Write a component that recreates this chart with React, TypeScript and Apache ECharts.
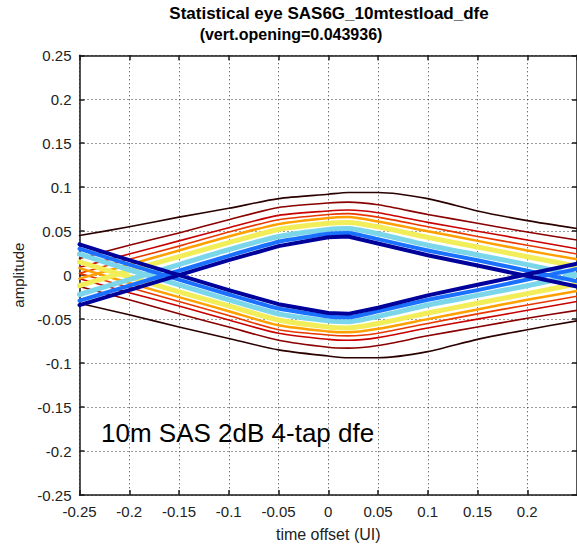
import React, { useEffect, useRef } from "react";
import * as echarts from "echarts";

// time offset samples (UI)
const T = [-0.25, -0.2, -0.15, -0.1, -0.05, 0, 0.02, 0.05, 0.1, 0.15, 0.2, 0.25];

// upper eye boundary contours (inner = highest probability)
const upperInner = [-0.034, -0.017, 0.0, 0.017, 0.033, 0.043, 0.044, 0.036, 0.0226, 0.011, -0.001, -0.013];
const upperBlue = [-0.029, -0.012, 0.005, 0.022, 0.038, 0.047, 0.048, 0.041, 0.028, 0.017, 0.005, -0.007];
const upperCyan = [-0.022, -0.005, 0.012, 0.029, 0.044, 0.052, 0.053, 0.047, 0.034, 0.023, 0.012, 0.0];
const upperYellow = [-0.012, 0.005, 0.021, 0.037, 0.052, 0.059, 0.06, 0.055, 0.043, 0.032, 0.021, 0.01];
const upperOrange = [-0.004, 0.012, 0.028, 0.044, 0.058, 0.065, 0.066, 0.061, 0.05, 0.039, 0.028, 0.018];
const upperOrangeRed = [0.002, 0.018, 0.033, 0.049, 0.063, 0.069, 0.07, 0.066, 0.055, 0.044, 0.034, 0.024];
const upperRed = [0.009, 0.024, 0.039, 0.054, 0.068, 0.073, 0.074, 0.071, 0.06, 0.05, 0.04, 0.03];
const upperDarkRed = [0.019, 0.034, 0.048, 0.063, 0.077, 0.082, 0.083, 0.08, 0.069, 0.059, 0.049, 0.04];
const upperBlack = [0.045, 0.055, 0.066, 0.076, 0.087, 0.092, 0.094, 0.094, 0.087, 0.073, 0.062, 0.053];

// lower eye boundary contours
const lowerInner = [0.035, 0.017, 0.0, -0.017, -0.033, -0.043, -0.044, -0.037, -0.023, -0.011, 0.001, 0.013];
const lowerBlue = [0.03, 0.012, -0.005, -0.022, -0.038, -0.047, -0.048, -0.041, -0.028, -0.017, -0.005, 0.007];
const lowerCyan = [0.024, 0.006, -0.011, -0.028, -0.044, -0.052, -0.053, -0.047, -0.034, -0.023, -0.012, 0.0];
const lowerYellow = [0.015, -0.002, -0.019, -0.035, -0.051, -0.059, -0.06, -0.055, -0.043, -0.032, -0.021, -0.01];
const lowerOrange = [0.008, -0.009, -0.025, -0.041, -0.057, -0.064, -0.065, -0.061, -0.05, -0.039, -0.028, -0.018];
const lowerOrangeRed = [0.002, -0.014, -0.03, -0.046, -0.062, -0.068, -0.069, -0.066, -0.055, -0.044, -0.034, -0.024];
const lowerRed = [-0.004, -0.02, -0.035, -0.051, -0.066, -0.073, -0.074, -0.071, -0.06, -0.05, -0.04, -0.03];
const lowerDarkRed = [-0.013, -0.028, -0.044, -0.059, -0.074, -0.082, -0.083, -0.08, -0.069, -0.059, -0.049, -0.04];
const lowerBlack = [-0.032, -0.045, -0.059, -0.072, -0.085, -0.092, -0.094, -0.094, -0.087, -0.073, -0.062, -0.052];

const TITLE_1 = "Statistical eye SAS6G_10mtestload_dfe";
const TITLE_2 = "(vert.opening=0.043936)";
const NOTE = "10m SAS 2dB 4-tap dfe";
const X_NAME = "time offset (UI)";
const Y_NAME = "amplitude";

const FONT = "Liberation Sans, Arial, sans-serif";

export default function App() {
  const ref = useRef<HTMLDivElement>(null);
  useEffect(() => {
    if (!ref.current) return;
    const chart = echarts.init(ref.current, undefined, { renderer: "svg" });

    const levels: { up: number[]; lo: number[]; color: string; width: number; smooth: number | boolean }[] = [
      { up: upperBlack, lo: lowerBlack, color: "#2a0000", width: 1.6, smooth: 0.25 },
      { up: upperDarkRed, lo: lowerDarkRed, color: "#8a0000", width: 1.6, smooth: 0.25 },
      { up: upperRed, lo: lowerRed, color: "#c80000", width: 1.6, smooth: 0.25 },
      { up: upperOrangeRed, lo: lowerOrangeRed, color: "#e83800", width: 1.6, smooth: 0.25 },
      { up: upperOrange, lo: lowerOrange, color: "#ffa000", width: 2.5, smooth: 0.25 },
      { up: upperYellow, lo: lowerYellow, color: "#f2ee5a", width: 5, smooth: 0.2 },
      { up: upperCyan, lo: lowerCyan, color: "#7ad6e8", width: 5, smooth: 0.2 },
      { up: upperBlue, lo: lowerBlue, color: "#1a70ff", width: 4, smooth: 0.15 },
      { up: upperInner, lo: lowerInner, color: "#00009a", width: 4, smooth: false },
    ];

    const series: any[] = [];
    levels.forEach((lv, i) => {
      [lv.up, lv.lo].forEach((arr, j) => {
        series.push({
          type: "line",
          name: `c${i}_${j}`,
          data: T.map((t, k) => [t, arr[k]]),
          showSymbol: false,
          smooth: lv.smooth,
          clip: true,
          silent: true,
          lineStyle: { color: lv.color, width: lv.width, cap: "round", join: "round" },
          z: 2 + i,
        });
      });
    });

    const gridLine = { show: true, lineStyle: { color: "#3a3a3a", width: 1, type: [1, 3] } };
    const axisLineStyle = { show: true, onZero: false, lineStyle: { color: "#1a1a1a", width: 1.5 } };
    const tickStyle = { show: true, inside: true, length: 5, lineStyle: { color: "#1a1a1a", width: 1.5 } };
    const labelStyle = { color: "#222", fontFamily: FONT, fontSize: 15 };

    chart.setOption({
      animation: false,
      backgroundColor: "#ffffff",
      grid: { left: 79.5, top: 55.3, width: 504, height: 443, containLabel: false },
      xAxis: [
        {
          type: "value",
          min: -0.25,
          max: 0.25,
          interval: 0.05,
          position: "bottom",
          axisLine: axisLineStyle,
          axisTick: tickStyle,
          axisLabel: { ...labelStyle, margin: 9, showMaxLabel: false },
          splitLine: gridLine,
          name: X_NAME,
          nameLocation: "middle",
          nameGap: 31,
          nameTextStyle: { color: "#222", fontFamily: FONT, fontSize: 16 },
        },
        {
          type: "value",
          min: -0.25,
          max: 0.25,
          interval: 0.05,
          position: "top",
          axisLine: axisLineStyle,
          axisTick: tickStyle,
          axisLabel: { show: false },
          splitLine: { show: false },
        },
      ],
      yAxis: [
        {
          type: "value",
          min: -0.25,
          max: 0.25,
          interval: 0.05,
          position: "left",
          axisLine: axisLineStyle,
          axisTick: tickStyle,
          axisLabel: { ...labelStyle, margin: 8 },
          splitLine: gridLine,
          name: Y_NAME,
          nameLocation: "middle",
          nameRotate: 90,
          nameGap: 54,
          nameTextStyle: { color: "#222", fontFamily: FONT, fontSize: 15 },
        },
        {
          type: "value",
          min: -0.25,
          max: 0.25,
          interval: 0.05,
          position: "right",
          axisLine: axisLineStyle,
          axisTick: tickStyle,
          axisLabel: { show: false },
          splitLine: { show: false },
        },
      ],
      series,
      graphic: [
        {
          type: "text",
          x: 329,
          y: 13,
          z: 100,
          style: {
            text: TITLE_1,
            font: `bold 17px ${FONT}`,
            fill: "#000",
            textAlign: "center",
            textVerticalAlign: "middle",
          },
        },
        {
          type: "text",
          x: 291,
          y: 34,
          z: 100,
          style: {
            text: TITLE_2,
            font: `bold 16px ${FONT}`,
            fill: "#000",
            textAlign: "center",
            textVerticalAlign: "middle",
          },
        },
        {
          type: "text",
          x: 101,
          y: 433,
          z: 100,
          style: {
            text: NOTE,
            font: `26px ${FONT}`,
            fill: "#000",
            textAlign: "left",
            textVerticalAlign: "middle",
          },
        },
      ],
    });

    return () => chart.dispose();
  }, []);

  return (
    <div
      ref={ref}
      style={{ position: "fixed", left: 0, top: 0, width: 577, height: 547, background: "#fff" }}
    />
  );
}
